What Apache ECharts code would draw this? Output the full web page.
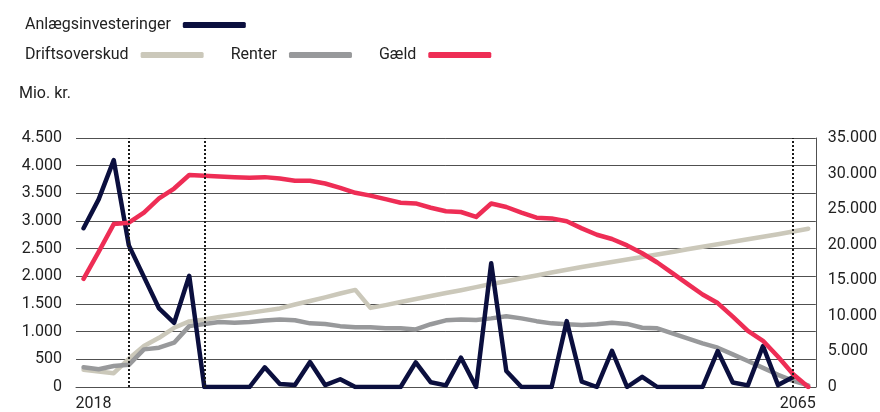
<!DOCTYPE html>
<html>
<head>
<meta charset="utf-8">
<script src="https://cdn.jsdelivr.net/npm/echarts@6/dist/echarts.min.js"></script>
<style>
  html, body { margin: 0; padding: 0; background: #fff; }
  #chart { width: 880px; height: 412px; }
</style>
</head>
<body>
<div id="chart"></div>
<script>
// år 2018-2066
const years = []
for (let y = 2018; y <= 2066; y++) years.push(String(y))

const shownYears = ['2018', '2065']
const markYears = ['2021', '2026', '2065']

const leftTicks = { min: 0, max: 4500, interval: 500 }
const rightTicks = { min: 0, max: 35000, interval: 5000 }

// Mio. kr.
const anlaeg = [
  2870, 3390, 4100, 2560, 1990, 1420, 1160, 2010, 0, 0,
  0, 0, 355, 55, 35, 450, 35, 140, 0, 0,
  0, 0, 445, 85, 30, 530, 0, 2235, 290, 0,
  0, 0, 1190, 95, 0, 655, 0, 185, 0, 0,
  0, 0, 650, 80, 30, 740, 35, 180, null
]
const drift = [
  310, 280, 250, 510, 740, 890, 1070, 1185, 1220, 1265,
  1300, 1340, 1380, 1420, 1490, 1555, 1620, 1690, 1755, 1430,
  1480, 1535, 1590, 1645, 1700, 1750, 1805, 1860, 1910, 1965,
  2015, 2070, 2120, 2170, 2215, 2260, 2305, 2350, 2395, 2440,
  2490, 2535, 2580, 2625, 2670, 2715, 2760, 2810, 2860
]
const renter = [
  355, 320, 380, 400, 680, 710, 800, 1100, 1140, 1175,
  1160, 1175, 1200, 1220, 1205, 1150, 1140, 1100, 1080, 1080,
  1060, 1060, 1040, 1135, 1205, 1220, 1210, 1240, 1280, 1240,
  1190, 1150, 1135, 1120, 1135, 1160, 1140, 1070, 1060, 970,
  880, 790, 710, 590, 470, 345, 220, 110, 30
]
const gaeld = [
  15200, 19000, 22900, 23100, 24500, 26500, 27900, 29800, 29700, 29600,
  29500, 29400, 29500, 29300, 29000, 29000, 28600, 28000, 27300, 26900,
  26400, 25900, 25800, 25200, 24700, 24600, 23900, 25800, 25300, 24500,
  23800, 23700, 23300, 22300, 21400, 20800, 19900, 18800, 17500, 16000,
  14500, 13000, 11800, 9900, 7900, 6500, 4250, 1800, 0
]

const font = 'Roboto'
const txt = '#222'
const gridColor = '#505050'

function dk(v) {
  return String(v).replace(/\B(?=(\d{3})+(?!\d))/g, '.')
}

const chart = echarts.init(document.getElementById('chart'))
chart.setOption({
  animation: false,
  textStyle: { fontFamily: font },
  title: {
    text: 'Mio. kr.',
    left: 14,
    top: 81,
    textStyle: { fontFamily: font, fontSize: 16, fontWeight: 'normal', color: txt }
  },
  legend: [
    {
      data: ['Anlægsinvesteringer'],
      left: 20,
      top: 12,
      align: 'right',
      icon: 'roundRect',
      itemWidth: 63,
      itemHeight: 6,
      selectedMode: false,
      textStyle: { fontFamily: font, fontSize: 16, color: txt, padding: [0, 7, 0, 0] }
    },
    {
      data: ['Driftsoverskud', 'Renter', 'Gæld'],
      left: 20,
      top: 42,
      align: 'right',
      icon: 'roundRect',
      itemWidth: 63,
      itemHeight: 6,
      itemGap: 27,
      selectedMode: false,
      textStyle: { fontFamily: font, fontSize: 16, color: txt, padding: [0, 7, 0, 0] }
    }
  ],
  grid: {
    left: 76,
    right: 62,
    top: 138,
    bottom: 25
  },
  xAxis: {
    type: 'category',
    data: years,
    boundaryGap: true,
    axisTick: { show: false },
    axisLine: { lineStyle: { color: gridColor, width: 1 } },
    axisLabel: {
      interval: 0,
      margin: 9,
      fontFamily: font,
      fontSize: 16,
      color: txt,
      formatter: function (v) {
        if (v === shownYears[0]) return '{a|' + v + '}'
        if (v === shownYears[1]) return '{b|' + v + '}'
        return ''
      },
      rich: {
        a: { fontFamily: font, fontSize: 16, color: txt, padding: [0, 0, 0, 20] },
        b: { fontFamily: font, fontSize: 16, color: txt, padding: [0, 0, 0, 9] }
      }
    }
  },
  yAxis: [
    {
      type: 'value',
      min: leftTicks.min,
      max: leftTicks.max,
      interval: leftTicks.interval,
      axisLine: { show: false },
      axisTick: { show: false },
      splitLine: { lineStyle: { color: gridColor, width: 1 } },
      axisLabel: { margin: 14, fontFamily: font, fontSize: 16, color: txt, formatter: dk }
    },
    {
      type: 'value',
      min: rightTicks.min,
      max: rightTicks.max,
      interval: rightTicks.interval,
      axisLine: { show: true, lineStyle: { color: gridColor, width: 1 } },
      axisTick: { show: false },
      splitLine: { show: false },
      axisLabel: { margin: 12, fontFamily: font, fontSize: 16, color: txt, formatter: dk }
    }
  ],
  series: [
    {
      name: 'Driftsoverskud',
      type: 'line',
      data: drift,
      showSymbol: false,
      color: '#cbc8ba',
      lineStyle: { width: 4.5, cap: 'round', join: 'round' },
      markLine: {
        silent: true,
        symbol: ['none', 'none'],
        label: { show: false },
        lineStyle: { color: '#1a1a1a', width: 2, type: [2, 2] },
        data: markYears.map(y => ({ xAxis: y }))
      }
    },
    {
      name: 'Renter',
      type: 'line',
      data: renter,
      showSymbol: false,
      color: '#98999b',
      lineStyle: { width: 4.5, cap: 'round', join: 'round' }
    },
    {
      name: 'Anlægsinvesteringer',
      type: 'line',
      data: anlaeg,
      showSymbol: false,
      color: '#0b0f3e',
      lineStyle: { width: 4.5, cap: 'round', join: 'round' }
    },
    {
      name: 'Gæld',
      type: 'line',
      yAxisIndex: 1,
      data: gaeld,
      showSymbol: false,
      color: '#ee2d55',
      lineStyle: { width: 4.5, cap: 'round', join: 'round' }
    }
  ]
})
</script>
</body>
</html>
